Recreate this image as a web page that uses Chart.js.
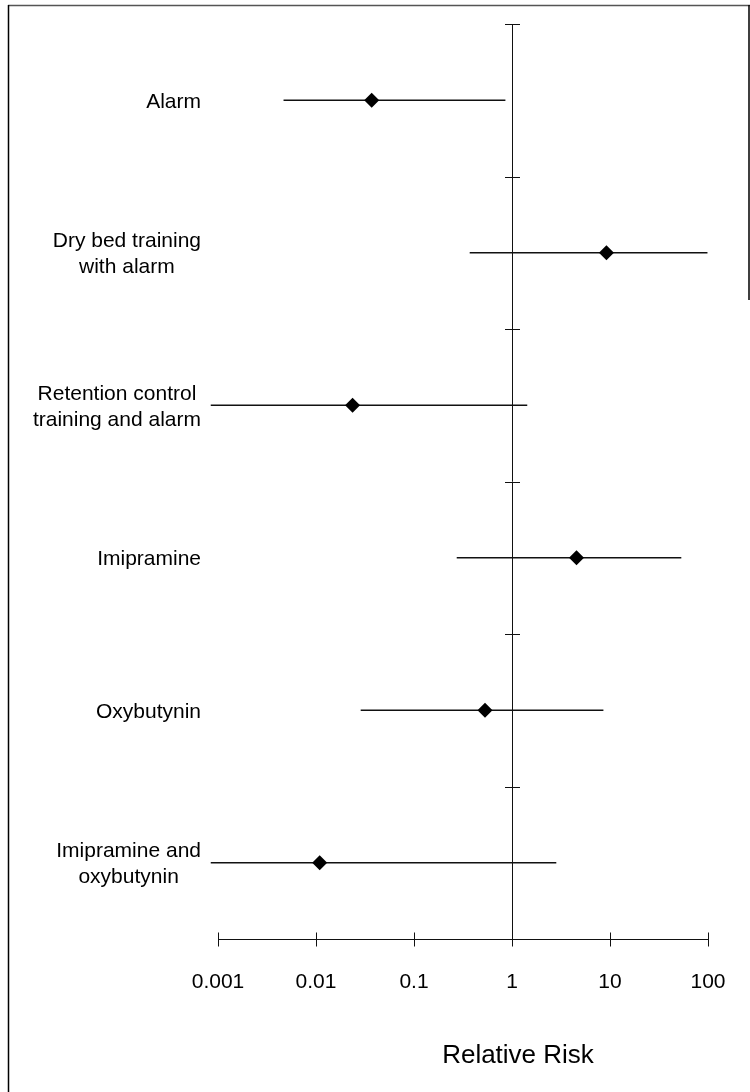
<!DOCTYPE html>
<html>
<head>
<meta charset="utf-8">
<style>
  html, body { margin: 0; padding: 0; background: #fff; }
  #wrap { width: 750px; height: 1092px; position: relative; }
</style>
<script src="https://cdn.jsdelivr.net/npm/chart.js@4.4.1/dist/chart.umd.min.js"></script>
</head>
<body>
<div id="wrap"><canvas id="c" width="750" height="1092"></canvas></div>
<script>
// Treatments (each entry is the list of lines in its label)
const categories = [
  ['Alarm'],
  ['Dry bed training', 'with alarm'],
  ['Retention control', 'training and alarm'],
  ['Imipramine'],
  ['Oxybutynin'],
  ['Imipramine and', 'oxybutynin']
];
// Relative risk point estimates and 95% confidence limits
const estimate = [0.037, 9.2, 0.0236, 4.55, 0.53, 0.0109];
const ciLow    = [0.0047, 0.373, 0.00085, 0.275, 0.0288, 0.00085];
const ciHigh   = [0.85, 98, 1.42, 53, 8.5, 2.81];
// Axis ticks
const tickValues = [0.001, 0.01, 0.1, 1, 10, 100];
const tickLabels = ['0.001', '0.01', '0.1', '1', '10', '100'];
const axisTitle = 'Relative Risk';

const FONT = '"Liberation Sans", Arial, Helvetica, sans-serif';

const forestPlugin = {
  id: 'forest',
  beforeDraw(chart) {
    const ctx = chart.ctx;
    ctx.save();
    ctx.fillStyle = '#fff';
    ctx.fillRect(0, 0, chart.width, chart.height);
    // frame
    ctx.lineWidth = 1.5;
    ctx.strokeStyle = '#555';
    ctx.beginPath();
    ctx.moveTo(8, 5.5); ctx.lineTo(750, 5.5);
    ctx.stroke();
    ctx.strokeStyle = '#000';
    ctx.beginPath();
    ctx.moveTo(8.5, 5); ctx.lineTo(8.5, 1092);
    ctx.moveTo(749, 5); ctx.lineTo(749, 300);
    ctx.stroke();
    ctx.restore();
  },
  beforeDatasetsDraw(chart) {
    const ctx = chart.ctx;
    const xs = chart.scales.x, ys = chart.scales.y;
    const area = chart.chartArea;
    const x1 = xs.getPixelForValue(1);
    const band = ys.getPixelForValue(1) - ys.getPixelForValue(0);
    ctx.save();
    ctx.strokeStyle = '#111';
    ctx.lineWidth = 1;
    // line of no effect
    ctx.beginPath();
    ctx.moveTo(Math.round(x1) + 0.5, area.top);
    ctx.lineTo(Math.round(x1) + 0.5, area.bottom);
    // row separators on the no-effect line
    for (let i = 0; i <= categories.length; i++) {
      const y = Math.round(ys.getPixelForValue(0) - band / 2 + i * band) + 0.5;
      ctx.moveTo(x1 - 7, y);
      ctx.lineTo(x1 + 8, y);
    }
    // horizontal axis with tick marks
    const yb = Math.round(area.bottom) + 0.5;
    ctx.moveTo(xs.getPixelForValue(tickValues[0]), yb);
    ctx.lineTo(xs.getPixelForValue(tickValues[tickValues.length - 1]), yb);
    tickValues.forEach(v => {
      const px = Math.round(xs.getPixelForValue(v)) + 0.5;
      ctx.moveTo(px, yb - 7);
      ctx.lineTo(px, yb + 7);
    });
    ctx.stroke();

    // treatment labels: lines centred within each block, blocks right-aligned
    ctx.fillStyle = '#000';
    ctx.font = '21px ' + FONT;
    ctx.textBaseline = 'middle';
    ctx.textAlign = 'center';
    const rightEdge = 201;
    const lineGap = 26;
    categories.forEach((lines, i) => {
      const yc = ys.getPixelForValue(i) + 1.5;
      const w = Math.max(...lines.map(l => ctx.measureText(l).width));
      const cx = rightEdge - w / 2;
      lines.forEach((l, k) => {
        ctx.fillText(l, cx, yc + (k - (lines.length - 1) / 2) * lineGap);
      });
    });

    // axis title
    ctx.font = '26px ' + FONT;
    ctx.fillText(axisTitle, 518, 1056);
    ctx.restore();
  }
};

new Chart(document.getElementById('c'), {
  type: 'bar',
  data: {
    labels: categories,
    datasets: [
      {
        type: 'bar',
        data: ciLow.map((lo, i) => [lo, ciHigh[i]]),
        backgroundColor: '#111',
        borderWidth: 0,
        barThickness: 1,
        clip: false,
        order: 2
      },
      {
        type: 'scatter',
        data: estimate.map((v, i) => ({ x: v, y: i })),
        pointStyle: 'rectRot',
        radius: 7.5,
        backgroundColor: '#000',
        borderColor: '#000',
        borderWidth: 0,
        clip: false,
        order: 1
      }
    ]
  },
  options: {
    indexAxis: 'y',
    responsive: false,
    animation: false,
    events: [],
    layout: { padding: { top: 24, right: 42, left: 0, bottom: 0 } },
    plugins: { legend: { display: false }, tooltip: { enabled: false } },
    scales: {
      x: {
        type: 'logarithmic',
        position: 'bottom',
        min: tickValues[0],
        max: tickValues[tickValues.length - 1],
        grid: { display: false },
        border: { display: false },
        afterBuildTicks: (scale) => { scale.ticks = tickValues.map(v => ({ value: v })); },
        afterFit: (scale) => { scale.height = 153; },
        ticks: {
          autoSkip: false,
          maxRotation: 0,
          padding: 23,
          color: '#000',
          font: { family: FONT, size: 21 },
          callback: (value, index) => tickLabels[index]
        }
      },
      y: {
        type: 'category',
        position: 'left',
        offset: true,
        grid: { display: false },
        border: { display: false },
        ticks: { display: false },
        afterFit: (scale) => { scale.width = 218; }
      }
    }
  },
  plugins: [forestPlugin]
});
</script>
</body>
</html>
